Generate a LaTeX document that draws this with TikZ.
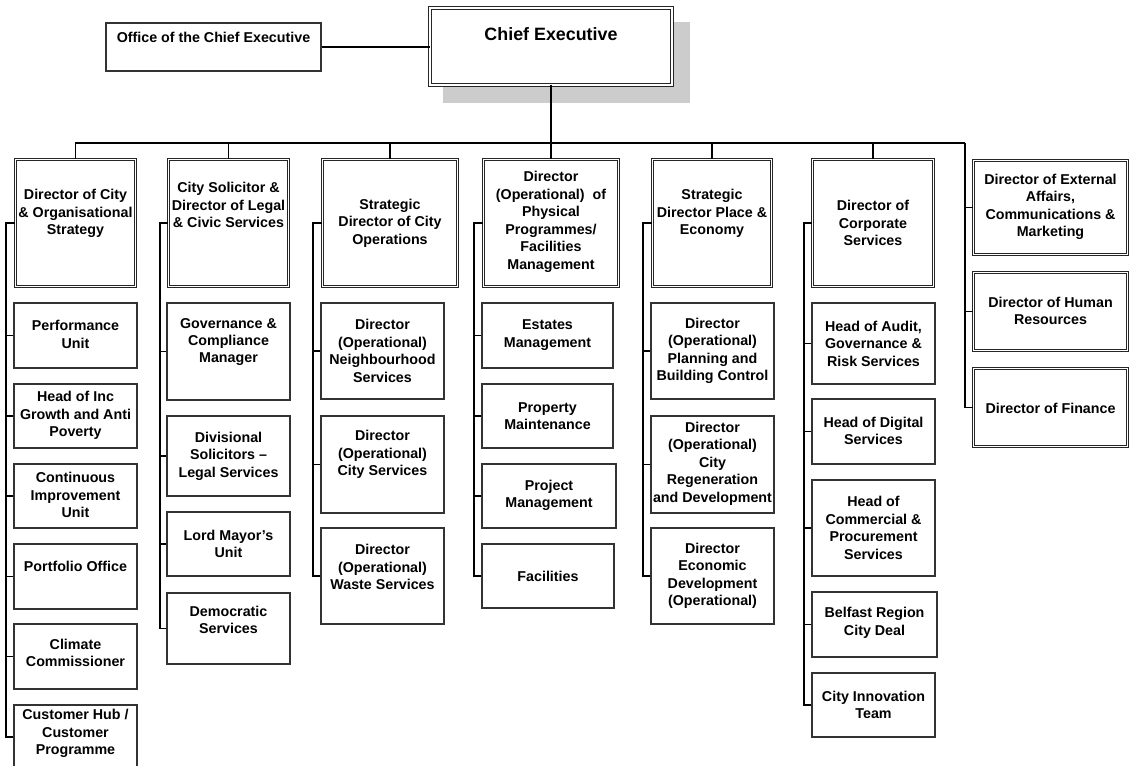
\documentclass[tikz,border=0pt]{standalone}
\usepackage{fontspec}
\setmainfont{Liberation Sans}
\usetikzlibrary{fit}
\begin{document}
\begin{tikzpicture}[x=0.75pt,y=-0.75pt,
  sub/.style={draw=black!80, line width=0.9pt, fill=white, inner sep=0pt},
  dbl/.style={draw=black!85, line width=0.65pt, double=white, double distance=1.4pt, fill=white, inner sep=0pt},
  dblbig/.style={draw=black!85, line width=0.75pt, double=white, double distance=2.2pt, fill=white, inner sep=0pt},
  txt/.style={align=center, font=\fontsize{10.7}{13.1}\selectfont\bfseries, inner sep=0pt},
  bigtxt/.style={align=center, font=\fontsize{13.4}{16}\selectfont\bfseries, inner sep=0pt},
  link/.style={draw=black, line width=0.9pt}]
\useasboundingbox (0,0) rectangle (1130,766);
\clip (0,0) rectangle (1130,766);

% ---------- top ----------
\fill[black!20] (443,22) rectangle (690,103);
\node[dblbig, fit={(430,8)(672,85)}] (ce) {};
\node[bigtxt] (cet) at (ce |- 0,34) {Chief Executive};
\node[sub, fit={(106,23)(321,71)}] (office) {};
\node[txt] (officet) at (office |- 0,37) {Office of the Chief Executive};
\draw[link] (office.east) -- (office.east -| ce.west);

% ---------- directors ----------
\node[dbl, fit={(15.5,159.5)(135.5,286.5)}] (h1) {};
\node[txt] (h1t) at (h1 |- 0,213.5) {Director of City\\\& Organisational\\Strategy};
\node[dbl, fit={(168.5,159.5)(288.5,286.5)}] (h2) {};
\node[txt] (h2t) at (h2 |- 0,205) {City Solicitor \&\\Director of Legal\\\& Civic Services};
\node[dbl, fit={(322.5,159.5)(457.5,286.5)}] (h3) {};
\node[txt] (h3t) at (h3 |- 0,223) {Strategic\\Director of City\\Operations};
\node[dbl, fit={(483.5,159.5)(618.5,286.5)}] (h4) {};
\node[txt] (h4t) at (h4 |- 0,222) {Director\\(Operational)\ \ of\\Physical\\Programmes/\\Facilities\\Management};
\node[dbl, fit={(652.5,159.5)(771.5,286.5)}] (h5) {};
\node[txt] (h5t) at (h5 |- 0,213.5) {Strategic\\Director Place \&\\Economy};
\node[dbl, fit={(812.5,159.5)(933.5,286.5)}] (h6) {};
\node[txt] (h6t) at (h6 |- 0,223) {Director of\\Corporate\\Services};
\node[dbl, fit={(973.5,160.5)(1127.5,254.5)}] (h7a) {};
\node[txt] (h7at) at (h7a |- 0,207) {Director of External\\Affairs,\\Communications \&\\Marketing};
\node[dbl, fit={(973.5,272.5)(1127.5,350.5)}] (h7b) {};
\node[txt] (h7bt) at (h7b |- 0,311) {Director of Human\\Resources};
\node[dbl, fit={(973.5,368.5)(1127.5,446.5)}] (h7c) {};
\node[txt] (h7ct) at (h7c |- 0,408) {Director of Finance};

% ---------- bus ----------
\coordinate (busL) at (75,143);
\coordinate (busR) at (965,143);
\draw[link] (busL) -- (busR);
\draw[link] (ce.south) -- (ce.south |- busL);
\foreach \h in {h1,h2,h3,h4,h5,h6} \draw[link] (\h.north) -- (\h.north |- busL);
\foreach \h in {h7a,h7b,h7c} \draw[link] (busR) |- (\h.west);

% ---------- column 1 ----------
\node[sub, fit={(14,303)(137,368)}] (s11) {};
\node[txt] (s11t) at (s11 |- 0,334.5) {Performance\\Unit};
\node[sub, fit={(14,384)(137,448)}] (s12) {};
\node[txt] (s12t) at (s12 |- 0,415.5) {Head of Inc\\Growth and Anti\\Poverty};
\node[sub, fit={(14,464)(137,528)}] (s13) {};
\node[txt] (s13t) at (s13 |- 0,495) {Continuous\\Improvement\\Unit};
\node[sub, fit={(14,544)(137,609)}] (s14) {};
\node[txt] (s14t) at (s14 |- 0,566) {Portfolio Office};
\node[sub, fit={(14,624)(137,689)}] (s15) {};
\node[txt] (s15t) at (s15 |- 0,653) {Climate\\Commissioner};
\node[sub, fit={(14,705)(137,769)}] (s16) {};
\node[txt] (s16t) at (s16 |- 0,733.5) {Customer Hub /\\Customer\\Programme};
\coordinate (v1) at (6,0 |- h1.west);
\draw[link] (h1.west) -- (v1) |- (s16.west);
\foreach \s in {s11,s12,s13,s14,s15} \draw[link] (v1) |- (\s.west);

% ---------- column 2 ----------
\node[sub, fit={(167,303)(290,400)}] (s21) {};
\node[txt] (s21t) at (s21 |- 0,342) {Governance \&\\Compliance\\Manager};
\node[sub, fit={(167,416)(290,496)}] (s22) {};
\node[txt] (s22t) at (s22 |- 0,456) {Divisional\\Solicitors –\\Legal Services};
\node[sub, fit={(167,512)(290,576)}] (s23) {};
\node[txt] (s23t) at (s23 |- 0,544) {Lord Mayor’s\\Unit};
\node[sub, fit={(167,593)(290,664)}] (s24) {};
\node[txt] (s24t) at (s24 |- 0,620) {Democratic\\Services};
\coordinate (v2) at (160,0 |- h2.west);
\draw[link] (h2.west) -- (v2) |- (s24.west);
\foreach \s in {s21,s22,s23} \draw[link] (v2) |- (\s.west);

% ---------- column 3 ----------
\node[sub, fit={(321,303)(444,399)}] (s31) {};
\node[txt] (s31t) at (s31 |- 0,351) {Director\\(Operational)\\Neighbourhood\\Services};
\node[sub, fit={(321,416)(444,513)}] (s32) {};
\node[txt] (s32t) at (s32 |- 0,454.5) {Director\\(Operational)\\City Services};
\node[sub, fit={(321,528)(444,624)}] (s33) {};
\node[txt] (s33t) at (s33 |- 0,567) {Director\\(Operational)\\Waste Services};
\coordinate (v3) at (313,0 |- h3.west);
\draw[link] (h3.west) -- (v3) |- (s33.west);
\foreach \s in {s31,s32} \draw[link] (v3) |- (\s.west);

% ---------- column 4 ----------
\node[sub, fit={(482,303)(613,368)}] (s41) {};
\node[txt] (s41t) at (s41 |- 0,335) {Estates\\Management};
\node[sub, fit={(482,384)(613,448)}] (s42) {};
\node[txt] (s42t) at (s42 |- 0,416) {Property\\Maintenance};
\node[sub, fit={(482,464)(616,528)}] (s43) {};
\node[txt] (s43t) at (s43 |- 0,495.5) {Project\\Management};
\node[sub, fit={(482,544)(614,608)}] (s44) {};
\node[txt] (s44t) at (s44 |- 0,576) {Facilities};
\coordinate (v4) at (474,0 |- h4.west);
\draw[link] (h4.west) -- (v4) |- (s44.west);
\foreach \s in {s41,s42,s43} \draw[link] (v4) |- (\s.west);

% ---------- column 5 ----------
\node[sub, fit={(651,303)(774,399)}] (s51) {};
\node[txt] (s51t) at (s51 |- 0,351) {Director\\(Operational)\\Planning and\\Building Control};
\node[sub, fit={(651,416)(774,513)}] (s52) {};
\node[txt] (s52t) at (s52 |- 0,463.5) {Director\\(Operational)\\City\\Regeneration\\and Development};
\node[sub, fit={(651,528)(774,624)}] (s53) {};
\node[txt] (s53t) at (s53 |- 0,576) {Director\\Economic\\Development\\(Operational)};
\coordinate (v5) at (643,0 |- h5.west);
\draw[link] (h5.west) -- (v5) |- (s53.west);
\foreach \s in {s51,s52} \draw[link] (v5) |- (\s.west);

% ---------- column 6 ----------
\node[sub, fit={(812,303)(935,384)}] (s61) {};
\node[txt] (s61t) at (s61 |- 0,343.5) {Head of Audit,\\Governance \&\\Risk Services};
\node[sub, fit={(812,399)(935,464)}] (s62) {};
\node[txt] (s62t) at (s62 |- 0,431) {Head of Digital\\Services};
\node[sub, fit={(812,480)(935,576)}] (s63) {};
\node[txt] (s63t) at (s63 |- 0,528) {Head of\\Commercial \&\\Procurement\\Services};
\node[sub, fit={(812,592)(937,657)}] (s64) {};
\node[txt] (s64t) at (s64 |- 0,623) {Belfast Region\\City Deal};
\node[sub, fit={(812,673)(935,737)}] (s65) {};
\node[txt] (s65t) at (s65 |- 0,705) {City Innovation\\Team};
\coordinate (v6) at (804,0 |- h6.west);
\draw[link] (h6.west) -- (v6) |- (s65.west);
\foreach \s in {s61,s62,s63,s64} \draw[link] (v6) |- (\s.west);
\end{tikzpicture}
\end{document}
